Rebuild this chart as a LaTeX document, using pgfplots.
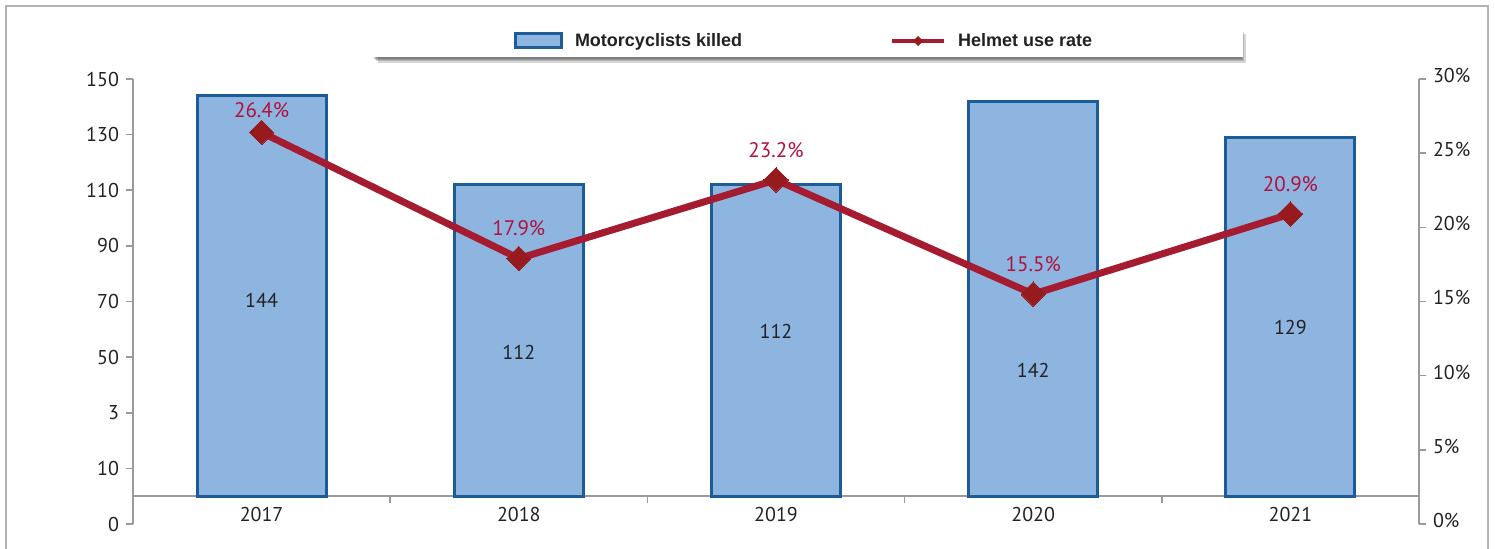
\documentclass[border=0pt]{standalone}
\usepackage{pgfplots}
\pgfplotsset{compat=1.18}
\usepackage{fontspec}
\setmainfont{PT Sans}
\newfontfamily\legfont{Liberation Sans}

\definecolor{barfill}{HTML}{8EB4E0}
\definecolor{bardraw}{HTML}{1B5C99}
\definecolor{linered}{HTML}{A51C30}
\definecolor{markred}{HTML}{961A1E}
\definecolor{lblred}{HTML}{B0123E}
\definecolor{axgray}{HTML}{9A9A9A}
\definecolor{txt}{HTML}{222222}

% killed per year, and where the number label sits inside the bar
\pgfplotstableread{
x killed lblpos
0 144 70.5
1 112 51.8
2 112 59.4
3 142 45.3
4 129 60.8
}\killedtab

% helmet use rate (%), label offset above the marker (pt)
\pgfplotstableread{
x rate off
0 26.4 11
1 17.9 15
2 23.2 15
3 15.5 15
4 20.9 15
}\ratetab

\begin{document}
\begin{tikzpicture}
\path[use as bounding box] (-66.5pt,-12pt) rectangle (681pt,262pt);
\draw[black!30, line width=0.8pt] (-63.5pt,-14pt) -- (-63.5pt,259pt) -- (677.5pt,259pt) -- (677.5pt,-14pt);
% soft shadow under the legend box
\foreach \d in {1.0,1.6,2.2,2.8}
  \fill[black, opacity=0.16] (119.5pt+\d pt,233.5pt-\d pt) rectangle (553.5pt+\d pt,248pt-\d pt);

\pgfplotsset{
  base/.style={
    scale only axis, width=643pt, height=222.5pt,
    xmin=-0.5, xmax=4.5,
    axis line style={axgray, line width=0.8pt, -},
    tick style={axgray, line width=0.8pt},
    major tick length=3.5pt, tick align=outside,
    tick label style={font=\fontsize{10}{12}\selectfont, text=txt},
  },
}

\begin{axis}[base,
  ymin=-10, ymax=150,
  axis y line*=left, axis x line*=middle,
  ytick={-10,10,30,50,70,90,110,130,150},
  yticklabels={0,10,3,50,70,90,110,130,150},
  xtick={0.5,1.5,2.5,3.5}, xticklabels={,,,},
  xticklabel style={yshift=1.5pt},
  extra x ticks={0,1,2,3,4},
  extra x tick labels={2017,2018,2019,2020,2021},
  extra x tick style={tick style={draw=none}},
  legend columns=2,
  legend style={at={(0.5226,1.0854)}, anchor=center,
    draw=none, fill=white,
    inner xsep=73.5pt, inner ysep=2pt,
    font=\legfont\bfseries\fontsize{9}{11}\selectfont, text=txt,
    /tikz/every odd column/.append style={column sep=4pt},
    /tikz/every even column/.append style={column sep=72pt}},
]
\addplot[ybar, bar width=64.5pt, fill=barfill, draw=bardraw, line width=1.5pt,
  legend image code/.code={\draw[fill=barfill, draw=bardraw, line width=1.5pt] (0pt,-3.5pt) rectangle (23pt,3.5pt);}]
  table[x=x, y=killed] {\killedtab};
\addlegendentry{Motorcyclists killed}
\addlegendimage{legend image code/.code={
  \draw[linered, line width=2pt] (0pt,0pt) -- (26pt,0pt);
  \fill[markred] (13pt,2.2pt) -- (15.2pt,0pt) -- (13pt,-2.2pt) -- (10.8pt,0pt) -- cycle;}}
\addlegendentry{Helmet use rate}
\addplot[forget plot, draw=none, mark=none, nodes near coords,
  point meta=explicit symbolic,
  nodes near coords style={anchor=center, text=txt, font=\fontsize{10}{12}\selectfont}]
  table[x=x, y=lblpos, meta=killed] {\killedtab};
\end{axis}

\begin{axis}[base,
  ymin=0, ymax=30,
  axis y line*=right, axis x line=none,
  ytick={0,5,...,30},
  yticklabels={0\%,5\%,10\%,15\%,20\%,25\%,30\%},
  yticklabel style={yshift=1.8pt},
]
\addplot[linered, line width=3.5pt, line join=round,
  mark=square*, mark size=4.3pt,
  mark options={rotate=45, fill=markred, draw=markred, line width=0pt},
  nodes near coords={\pgfplotspointmeta\%},
  point meta=explicit symbolic,
  visualization depends on={\thisrow{off} \as \off},
  nodes near coords style={anchor=center, yshift=\off pt, text=lblred,
    font=\fontsize{10.5}{12}\selectfont}]
  table[x=x, y=rate, meta=rate] {\ratetab};
\end{axis}
\end{tikzpicture}
\end{document}
